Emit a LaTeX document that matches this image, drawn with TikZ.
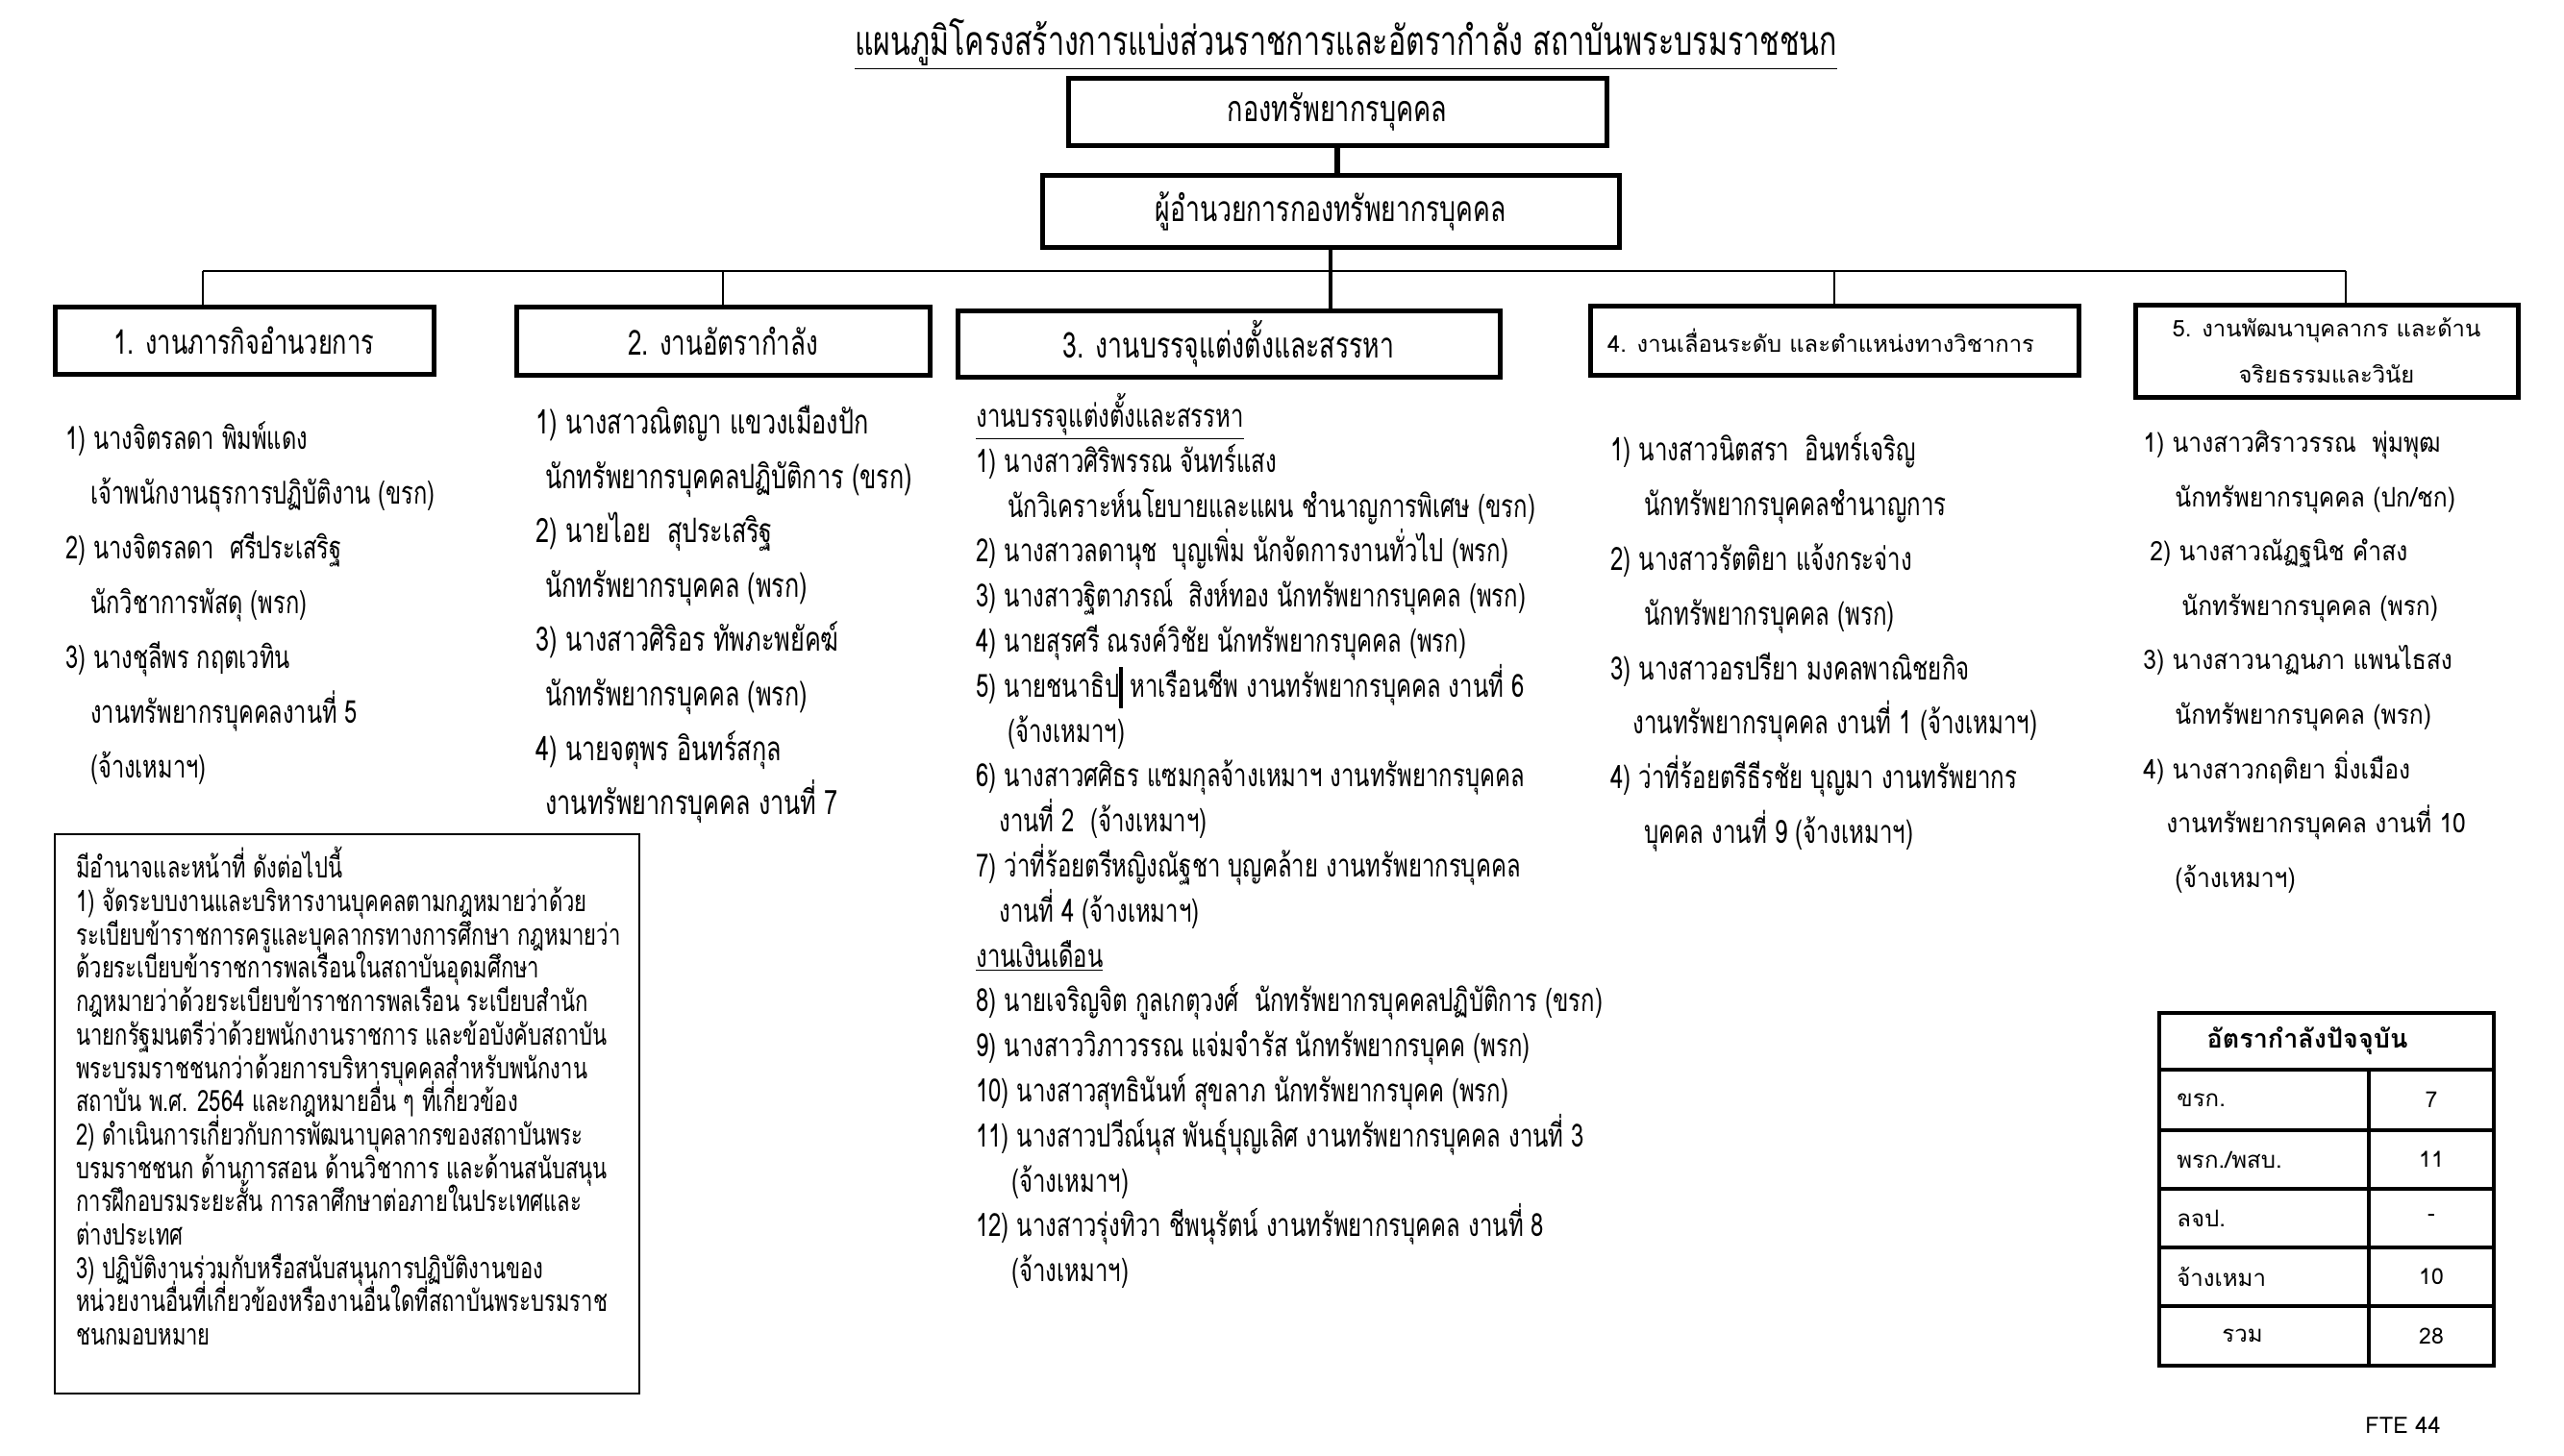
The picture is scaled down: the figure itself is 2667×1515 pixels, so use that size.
\documentclass[tikz,border=0pt]{standalone}
\usepackage{fontspec}
\newfontfamily\fN[Script=Thai,FakeStretch=0.72]{Loma}
\newfontfamily\fM[Script=Thai,FakeStretch=0.88]{Loma}
\newfontfamily\fW[Script=Thai]{Loma}
\newcommand\setfs[2]{\fontsize{#1}{#2}\selectfont\lineskiplimit=-100pt\lineskip=0pt}
\newcommand\tstrut{\rule{0pt}{1em}}
\newcommand\ind[1]{\hspace*{#1}}
\begin{document}
\begin{tikzpicture}[x=0.5pt,y=-0.5pt,
  box/.style={draw, line width=2.5pt, inner sep=0pt, align=center},
  col/.style={anchor=north west, inner sep=0pt, align=left},
  link/.style={line width=1.2pt},
  linkmid/.style={line width=1.6pt},
  linkthick/.style={line width=3pt},
  tbl/.style={line width=2pt},
  cell/.style={inner sep=0pt, font={\fW\setfs{12pt}{14pt}}}]
\fill[white] (0,0) rectangle (2667,1515);
\useasboundingbox (0,0) rectangle (2667,1515);

% title
\node[inner sep=0pt, font={\fN\setfs{21.1pt}{26pt}}] (title) at (1400,46) {\underline{แผนภูมิโครงสร้างการแบ่งส่วนราชการและอัตรากำลัง สถาบันพระบรมราชชนก}};

% top boxes
\node[box, minimum width=280pt, minimum height=35pt, font={\fN\setfs{18.8pt}{22pt}}] (bA) at (1391,116) {กองทรัพยากรบุคคล};
\node[box, minimum width=300pt, minimum height=37.5pt, font={\fN\setfs{18.5pt}{22pt}}] (bB) at (1384,219.5) {ผู้อำนวยการกองทรัพยากรบุคคล};

% section boxes
\node[box, minimum width=197pt, minimum height=35pt, font={\fN\setfs{17.6pt}{22pt}}] (b1) at (254,354) {1. งานภารกิจอำนวยการ};
\node[box, minimum width=215pt, minimum height=35.5pt, font={\fN\setfs{18pt}{22pt}}] (b2) at (752,354.5) {2. งานอัตรากำลัง};
\node[box, minimum width=282pt, minimum height=34.5pt, font={\fN\setfs{18.5pt}{22pt}}] (b3) at (1278,358) {3. งานบรรจุแต่งตั้งและสรรหา};
\node[box, minimum width=254pt, minimum height=36pt, font={\fW\setfs{11.9pt}{14pt}}] (b4) at (1908,354) {4. งานเลื่อนระดับ และตำแหน่งทางวิชาการ\hspace*{14pt}};
\node[box, minimum width=199pt, minimum height=48pt, font={\fW\setfs{11.9pt}{24pt}}] (b5) at (2420,365) {5. งานพัฒนาบุคลากร และด้าน\\จริยธรรมและวินัย};

% connectors
\coordinate (hl) at (211,282);
\coordinate (hr) at (2440,282);
\draw[linkthick] (bA.south) -- (bA.south |- bB.north);
\draw[linkmid] (bB.south) -- (bB.south |- b3.north);
\draw[link] (hl) -- (hr);
\draw[link] (hl) -- (hl |- b1.north);
\draw[link] (b2.north) -- (b2.north |- hl);
\draw[link] (b4.north) -- (b4.north |- hl);
\draw[link] (hr) -- (hr |- b5.north);

% column 1
\node[col, font={\fN\setfs{16.4pt}{28.5pt}}] (c1) at (68,434) {\tstrut 1) นางจิตรลดา พิมพ์แดง\\
\ind{13pt}เจ้าพนักงานธุรการปฏิบัติงาน (ขรก)\\
2) นางจิตรลดา\ \ ศรีประเสริฐ\\
\ind{13pt}นักวิชาการพัสดุ (พรก)\\
3) นางชุลีพร กฤตเวทิน\\
\ind{13pt}งานทรัพยากรบุคคลงานที่ 5\\
\ind{13pt}(จ้างเหมาฯ)};

% column 2
\node[col, font={\fN\setfs{17.5pt}{28.3pt}}] (c2) at (557,416) {\tstrut 1) นางสาวณิตญา แขวงเมืองปัก\\
\ind{5pt}นักทรัพยากรบุคคลปฏิบัติการ (ขรก)\\
2) นายไอย\ \ สุประเสริฐ\\
\ind{5pt}นักทรัพยากรบุคคล (พรก)\\
3) นางสาวศิริอร ทัพภะพยัคฆ์\\
\ind{5pt}นักทรัพยากรบุคคล (พรก)\\
4) นายจตุพร อินทร์สกุล\\
\ind{5pt}งานทรัพยากรบุคคล งานที่ 7};

% column 3
\node[col, font={\fN\setfs{16.6pt}{23.4pt}}] (c3) at (1015,409) {\tstrut\underline{งานบรรจุแต่งตั้งและสรรหา}\\
1) นางสาวศิริพรรณ จันทร์แสง\\
\ind{16.5pt}นักวิเคราะห์นโยบายและแผน ชำนาญการพิเศษ (ขรก)\\
2) นางสาวลดานุช\ \ บุญเพิ่ม นักจัดการงานทั่วไป (พรก)\\
3) นางสาวฐิตาภรณ์\ \ สิงห์ทอง นักทรัพยากรบุคคล (พรก)\\
4) นายสุรศรี ณรงค์วิชัย นักทรัพยากรบุคคล (พรก)\\
5) นายชนาธิป\rule[-0.35em]{0.1em}{1.3em} หาเรือนชีพ งานทรัพยากรบุคคล งานที่ 6\\
\ind{16.5pt}(จ้างเหมาฯ)\\
6) นางสาวศศิธร แซมกุลจ้างเหมาฯ งานทรัพยากรบุคคล\\
\ind{12pt}งานที่ 2\ \ (จ้างเหมาฯ)\\
7) ว่าที่ร้อยตรีหญิงณัฐชา บุญคล้าย งานทรัพยากรบุคคล\\
\ind{12pt}งานที่ 4 (จ้างเหมาฯ)\\
\underline{งานเงินเดือน}\\
8) นายเจริญจิต กูลเกตุวงศ์\ \ นักทรัพยากรบุคคลปฏิบัติการ (ขรก)\\
9) นางสาววิภาวรรณ แจ่มจำรัส นักทรัพยากรบุคค (พรก)\\
10) นางสาวสุทธินันท์ สุขลาภ นักทรัพยากรบุคค (พรก)\\
11) นางสาวปวีณ์นุส พันธุ์บุญเลิศ งานทรัพยากรบุคคล งานที่ 3\\
\ind{18.5pt}(จ้างเหมาฯ)\\
12) นางสาวรุ่งทิวา ชีพนุรัตน์ งานทรัพยากรบุคคล งานที่ 8\\
\ind{18.5pt}(จ้างเหมาฯ)};

% column 4
\node[col, font={\fN\setfs{16.7pt}{28.4pt}}] (c4) at (1675,446) {\tstrut 1) นางสาวนิตสรา\ \ อินทร์เจริญ\\
\ind{17.5pt}นักทรัพยากรบุคคลชำนาญการ\\
2) นางสาวรัตติยา แจ้งกระจ่าง\\
\ind{17.5pt}นักทรัพยากรบุคคล (พรก)\\
3) นางสาวอรปรียา มงคลพาณิชยกิจ\\
\ind{11.5pt}งานทรัพยากรบุคคล งานที่ 1 (จ้างเหมาฯ)\\
4) ว่าที่ร้อยตรีธีรชัย บุญมา งานทรัพยากร\\
\ind{17.5pt}บุคคล งานที่ 9 (จ้างเหมาฯ)};

% column 5
\node[col, font={\fM\setfs{14pt}{28.3pt}}] (c5) at (2229,442) {\tstrut 1) นางสาวศิราวรรณ\ \ พุ่มพุฒ\\
\ind{16.5pt}นักทรัพยากรบุคคล (ปก/ชก)\\
\ind{3.5pt}2) นางสาวณัฏฐนิช คำสง\\
\ind{20pt}นักทรัพยากรบุคคล (พรก)\\
3) นางสาวนาฏนภา แพนไธสง\\
\ind{16.5pt}นักทรัพยากรบุคคล (พรก)\\
4) นางสาวกฤติยา มิ่งเมือง\\
\ind{12pt}งานทรัพยากรบุคคล งานที่ 10\\
\ind{16.5pt}(จ้างเหมาฯ)};

% duties box
\draw[line width=0.8pt] (57,868) rectangle (665,1450);
\node[col, font={\fN\setfs{15.3pt}{17.35pt}}] (duty) at (79,881) {\tstrut มีอำนาจและหน้าที่ ดังต่อไปนี้\\
1) จัดระบบงานและบริหารงานบุคคลตามกฎหมายว่าด้วย\\
ระเบียบข้าราชการครูและบุคลากรทางการศึกษา กฎหมายว่า\\
ด้วยระเบียบข้าราชการพลเรือนในสถาบันอุดมศึกษา\\
กฎหมายว่าด้วยระเบียบข้าราชการพลเรือน ระเบียบสำนัก\\
นายกรัฐมนตรีว่าด้วยพนักงานราชการ และข้อบังคับสถาบัน\\
พระบรมราชชนกว่าด้วยการบริหารบุคคลสำหรับพนักงาน\\
สถาบัน พ.ศ. 2564 และกฎหมายอื่น ๆ ที่เกี่ยวข้อง\\
2) ดำเนินการเกี่ยวกับการพัฒนาบุคลากรของสถาบันพระ\\
บรมราชชนก ด้านการสอน ด้านวิชาการ และด้านสนับสนุน\\
การฝึกอบรมระยะสั้น การลาศึกษาต่อภายในประเทศและ\\
ต่างประเทศ\\
3) ปฏิบัติงานร่วมกับหรือสนับสนุนการปฏิบัติงานของ\\
หน่วยงานอื่นที่เกี่ยวข้องหรืองานอื่นใดที่สถาบันพระบรมราช\\
ชนกมอบหมาย};

% table
\draw[tbl] (2246,1054) rectangle (2594,1421);
\draw[tbl] (2246,1113) -- (2594,1113);
\draw[tbl] (2246,1176) -- (2594,1176);
\draw[tbl] (2246,1237) -- (2594,1237);
\draw[tbl] (2246,1298) -- (2594,1298);
\draw[tbl] (2246,1359) -- (2594,1359);
\draw[tbl] (2464,1113) -- (2464,1421);
\node[inner sep=0pt, font={\fW\bfseries\setfs{13.5pt}{15pt}}] (th) at (2400,1083) {อัตรากำลังปัจจุบัน};
\node[cell, anchor=west] (l1) at (2264,1144.5) {ขรก.};
\node[cell, anchor=west] (l2) at (2264,1206.5) {พรก./พสบ.};
\node[cell, anchor=west] (l3) at (2264,1267.5) {ลจป.};
\node[cell, anchor=west] (l4) at (2264,1328.5) {จ้างเหมา};
\node[cell, anchor=west] (l5) at (2311,1390) {รวม};
\node[cell, font={\fW\setfs{11.5pt}{14pt}}] (r1) at (2529,1144.5) {7};
\node[cell, font={\fW\setfs{11.5pt}{14pt}}] (r2) at (2529,1206.5) {11};
\node[cell, font={\fW\setfs{11.5pt}{14pt}}] (r3) at (2529,1267.5) {-};
\node[cell, font={\fW\setfs{11.5pt}{14pt}}] (r4) at (2529,1328.5) {10};
\node[cell, font={\fW\setfs{11.5pt}{14pt}}] (r5) at (2529,1390) {28};

\node[anchor=west, inner sep=0pt, font={\fW\setfs{11.8pt}{14pt}}] (fte) at (2460,1483) {FTE 44};
\end{tikzpicture}
\end{document}
